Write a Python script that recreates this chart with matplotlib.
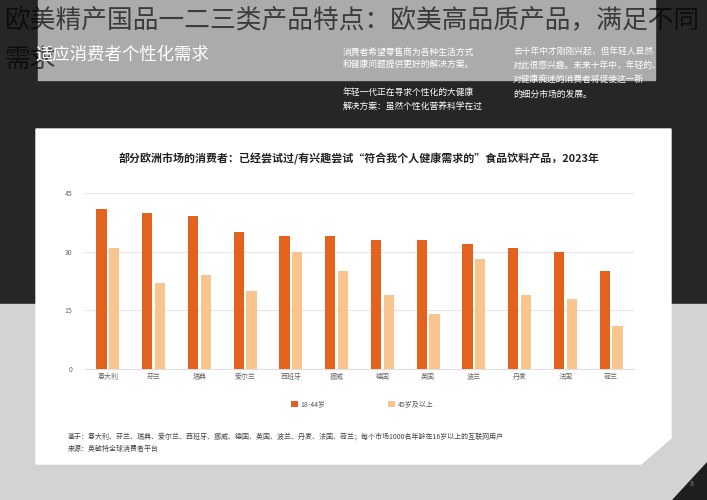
import matplotlib.pyplot as plt
from matplotlib.patches import Rectangle, Polygon
import numpy as np

plt.rcParams['font.family'] = ['Noto Sans CJK SC', 'DejaVu Sans']

# --- data ---
countries = ['意大利', '芬兰', '瑞典', '爱尔兰', '西班牙', '挪威',
             '德国', '英国', '波兰', '丹麦', '法国', '荷兰']
young = [41, 40, 39, 35, 34, 34, 33, 33, 32, 31, 30, 25]
older = [31, 22, 24, 20, 30, 25, 19, 14, 28, 19, 18, 11]
series_names = ['18-44岁', '45岁及以上']
y_ticks = [0, 15, 30, 45]

page_title = ['欧美精产国品一二三类产品特点：欧美高品质产品，满足不同', '需求']
subtitle = '适应消费者个性化需求'
col1 = ['消费者希望零售商为各种生活方式', '和健康问题提供更好的解决方案。', '',
        '年轻一代正在寻求个性化的大健康', '解决方案：虽然个性化营养科学在过']
col2 = ['去十年中才刚刚兴起，但年轻人显然', '对此很感兴趣。未来十年中，年轻的、',
        '对健康痴迷的消费者将促使这一新', '的细分市场的发展。']
chart_title = '部分欧洲市场的消费者：已经尝试过/有兴趣尝试“符合我个人健康需求的”食品饮料产品，2023年'
notes = ['基于：意大利、芬兰、瑞典、爱尔兰、西班牙、挪威、德国、英国、波兰、丹麦、法国、荷兰；每个市场1000名年龄在16岁以上的互联网用户',
         '来源：英敏特全球消费者平台']

DARK = '#e3621d'
LIGHT = '#f8c58f'
W, H = 707, 500

fig = plt.figure(figsize=(W / 100, H / 100), dpi=100)

# page background drawn in pixel coordinates
bg = fig.add_axes([0, 0, 1, 1])
bg.set_xlim(0, W)
bg.set_ylim(H, 0)
bg.axis('off')
bg.add_patch(Rectangle((0, 0), W, 304, color='#262626', zorder=0))
bg.add_patch(Rectangle((0, 304), W, H - 304, color='#d3d3d3', zorder=0))
bg.add_patch(Rectangle((38, 0), 617, 80, color='#ababab', zorder=1))
bg.add_patch(Polygon([(36, 129), (671, 129), (671, 438), (641, 464), (36, 464)],
                     closed=True, color='white', zorder=2))
bg.add_patch(Polygon([(672, 500), (707, 500), (707, 462)], closed=True,
                     color='#1e1e1e', zorder=2))
bg.text(692, 484, '8', fontsize=5, color='#888888', ha='center', va='center', zorder=3)

bg.text(4, 20, page_title[0], fontsize=18.5, color='black', alpha=0.65,
        ha='left', va='center', zorder=3)
bg.text(4, 60, page_title[1], fontsize=18.5, color='black', alpha=0.65,
        ha='left', va='center', zorder=3)
bg.text(35, 55, subtitle, fontsize=12.5, color='white', ha='left', va='center', zorder=4)
for i, line in enumerate(col1):
    if line:
        bg.text(343, 52 + i * 13.5, line, fontsize=6.3, color='white', ha='left', va='center', zorder=4)
for i, line in enumerate(col2):
    bg.text(513, 52 + i * 14, line, fontsize=6.3, color='white', ha='left', va='center', zorder=4)

bg.text(359, 159, chart_title, fontsize=7.9, fontweight='bold', color='#222222',
        ha='center', va='center', zorder=4)
for i, line in enumerate(notes):
    bg.text(68, 436 + i * 12.5, line, fontsize=5, color='#444444', ha='left', va='center', zorder=4)

# chart axes
ax = fig.add_axes([85 / W, (H - 369) / H, (634 - 85) / W, (369 - 193) / H])
ax.set_zorder(5)
ax.patch.set_alpha(0)
x = np.arange(len(countries))
bw = 0.22
ax.bar(x - 0.14, young, width=bw, color=DARK, label=series_names[0], zorder=3)
ax.bar(x + 0.14, older, width=bw, color=LIGHT, label=series_names[1], zorder=3)
ax.set_xlim(-0.5, len(countries) - 0.5)
ax.set_ylim(0, 45)
ax.set_yticks(y_ticks)
ax.set_xticks(x)
ax.set_xticklabels(countries)
ax.grid(axis='y', color='#e6e6e6', lw=0.8, zorder=0)
for s in ['top', 'right', 'left']:
    ax.spines[s].set_visible(False)
ax.spines['bottom'].set_color('#e0e0e0')
ax.tick_params(axis='both', length=0, labelsize=5, colors='#666666')
ax.tick_params(axis='y', pad=9)
ax.tick_params(axis='x', pad=3)

fig.legend(loc='center', bbox_to_anchor=(362 / W, (H - 404) / H), ncol=2, frameon=False,
           fontsize=5, handlelength=1.0, handleheight=1.0, handletextpad=0.4,
           columnspacing=9, labelcolor='#555555')

fig.savefig('out.png', dpi=100)
